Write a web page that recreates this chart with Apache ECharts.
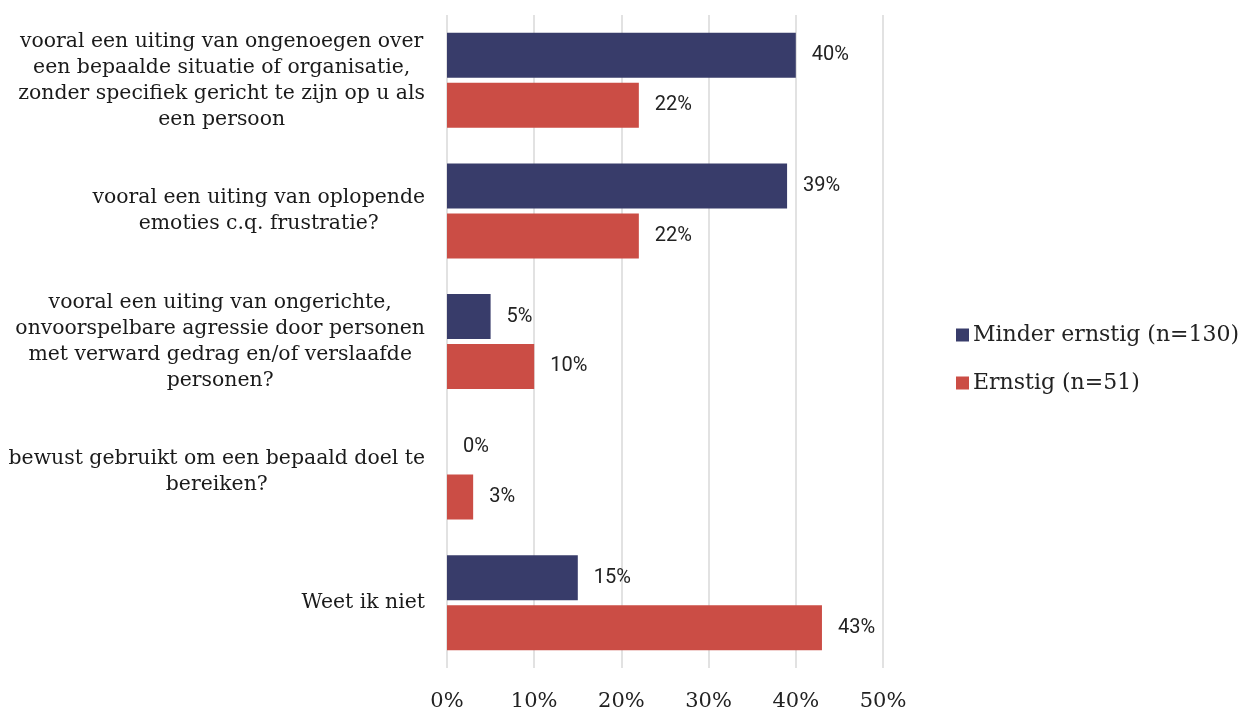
<!DOCTYPE html>
<html><head><meta charset="utf-8">
<script src="https://cdn.jsdelivr.net/npm/echarts@6/dist/echarts.min.js"></script>
<style>html,body{margin:0;padding:0;background:#fff}#c{width:1248px;height:712px}</style>
</head><body><div id="c"></div>
<script>
const categories = [
  "vooral een uiting van ongenoegen over\neen bepaalde situatie of organisatie,\nzonder specifiek gericht te zijn op u als\neen persoon",
  "vooral een uiting van oplopende\nemoties c.q. frustratie?",
  "vooral een uiting van ongerichte,\nonvoorspelbare agressie door personen\nmet verward gedrag en/of verslaafde\npersonen?",
  "bewust gebruikt om een bepaald doel te\nbereiken?",
  "Weet ik niet"
];
const seriesNames = ["Minder ernstig (n=130)", "Ernstig (n=51)"];
const minderErnstig = [40, 39, 5, 0, 15];
const ernstig = [22, 22, 10, 3, 43];
const xTicks = [0, 10, 20, 30, 40, 50];

const serif = "'DejaVu Serif', serif";
const chart = echarts.init(document.getElementById('c'), null, {renderer: 'canvas'});
const labelStyle = {show: true, position: 'right', distance: 16, formatter: '{c}%', color: '#222', fontFamily: 'Roboto, sans-serif', fontSize: 20};
chart.setOption({
  animation: false,
  grid: {left: 447, right: 365, top: 15, bottom: 42},
  legend: {
    orient: 'vertical', left: 951, top: 319, itemWidth: 13, itemHeight: 13, itemGap: 26,
    icon: 'rect',
    textStyle: {fontFamily: serif, fontSize: 22, color: '#222', padding: [0, 0, 0, -1]},
    data: seriesNames
  },
  xAxis: {
    type: 'value', min: 0, max: 50, interval: 10,
    axisLine: {show: false}, axisTick: {show: false},
    splitLine: {lineStyle: {color: '#d9d9d9', width: 1.5}},
    axisLabel: {margin: 23, fontFamily: serif, fontSize: 21, color: '#222', formatter: v => xTicks.includes(v) ? v + '%' : ''}
  },
  yAxis: {
    type: 'category', inverse: true, data: categories,
    axisLine: {show: false}, axisTick: {show: false},
    axisLabel: {
      margin: 22, align: 'right',
      formatter: v => v.split('\n').map(l => '{c|' + l + '}').join('\n'),
      rich: {c: {align: 'center', fontFamily: serif, fontSize: 20.4, lineHeight: 26, color: '#1a1a1a'}}
    }
  },
  series: [
    {name: seriesNames[0], type: 'bar', data: minderErnstig, barWidth: 45, barGap: '11%', itemStyle: {color: '#383c6a'}, label: labelStyle},
    {name: seriesNames[1], type: 'bar', data: ernstig, barWidth: 45, barGap: '11%', itemStyle: {color: '#cb4d45'}, label: labelStyle}
  ]
});
</script></body></html>
